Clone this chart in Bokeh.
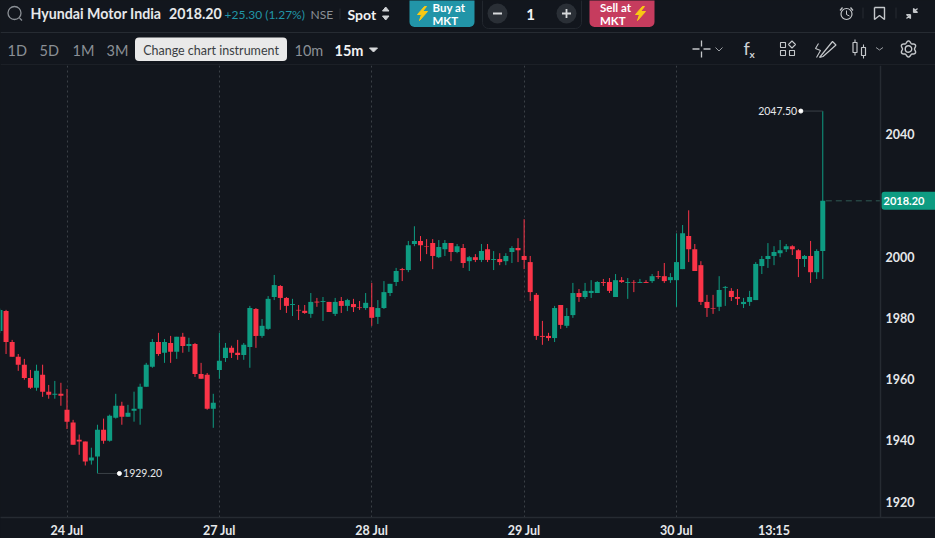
import numpy as np
from bokeh.plotting import figure
from bokeh.models import Range1d, FixedTicker, ColumnDataSource
from bokeh.core.properties import value
from bokeh.layouts import column
from bokeh.embed import file_html
from bokeh.resources import INLINE

# ---------- data (bar 0 = first bar of 24 Jul, bars are 15 minutes) ----------
first_bar = -11
opens = [
 1975.7,1982.2,1972.1,1967.3,1964.7,1960.4,1957.2,1961.4,1955.9,1954.9,
 1955.2,1950.0,1945.8,1940.2,1939.6,1933.4,1934.7,1943.5,1939.9,1947.4,
 1951.3,1947.7,1949.7,1950.3,1957.5,1964.0,1972.1,1968.6,1971.8,1968.9,
 1973.8,1970.8,1971.5,1961.7,1961.4,1950.3,1963.0,1966.9,1970.2,1968.6,
 1967.9,1970.5,1982.9,1974.1,1976.4,1986.8,1990.4,1986.5,1984.2,1982.6,
 1982.3,1981.3,1985.3,1985.2,1985.2,1981.3,1985.5,1983.9,1984.5,1983.4,
 1983.2,1983.5,1980.3,1983.2,1988.1,1991.7,1995.9,1995.6,2004.1,2005.1,
 2003.4,2004.4,1999.8,2002.4,2004.4,2001.5,2002.8,1998.5,1999.8,1998.9,
 2002.4,1998.9,1999.2,1998.5,2001.5,2002.8,2000.2,1998.2,1987.5,1974.1,
 1974.1,1973.4,1984.2,1977.4,1980.9,1988.1,1986.8,1988.1,1988.1,1991.7,
 1991.7,1986.8,1992.3,1991.4,1991.7,1991.4,1991.7,1992.0,1993.6,1993.6,
 1992.3,1992.3,1995.9,2006.7,2002.4,1997.2,1985.2,1983.2,1983.6,1989.8,
 1988.8,1986.8,1984.5,1985.2,1985.8,1996.9,1999.2,2000.2,2001.1,2002.4,
 2003.4,2002.1,1999.2,2000.2,1994.9,2001.8]
closes = [
 1982.6,1972.1,1967.3,1964.7,1960.4,1957.2,1962.7,1955.9,1954.9,1955.2,
 1954.6,1946.1,1938.6,1939.6,1933.1,1934.4,1943.5,1939.9,1948.0,1951.3,
 1947.7,1949.0,1950.3,1957.5,1964.7,1972.1,1968.2,1972.1,1968.9,1973.8,
 1970.8,1971.5,1961.7,1960.1,1950.3,1952.3,1966.0,1970.2,1968.6,1967.9,
 1971.2,1983.2,1974.1,1977.4,1986.2,1990.7,1986.5,1983.9,1984.5,1982.4,
 1981.6,1985.2,1985.0,1985.5,1981.9,1985.2,1983.9,1985.8,1983.5,1983.2,
 1984.9,1980.0,1983.2,1988.4,1991.1,1995.3,1995.6,2003.7,2005.1,2003.7,
 2003.2,2000.2,2003.1,2004.4,2001.5,2003.4,1997.9,1999.8,1998.9,2001.8,
 1998.9,1999.2,1998.2,2000.2,2002.8,2002.1,1998.9,1988.4,1974.1,1973.8,
 1973.4,1983.2,1977.7,1980.6,1988.1,1986.8,1988.8,1988.8,1991.7,1991.4,
 1988.8,1992.3,1991.7,1991.7,1991.5,1991.7,1991.4,1993.6,1993.3,1992.0,
 1993.3,1998.2,2007.6,2002.4,1995.3,1985.2,1983.2,1983.0,1989.1,1990.1,
 1986.8,1986.2,1985.2,1986.8,1997.6,1999.2,2000.2,2001.5,2002.1,2003.4,
 2002.4,1999.2,2000.2,1994.9,2001.8,2018.2]
highs = [
 1983.0,1982.6,1972.8,1968.2,1966.6,1963.0,1964.7,1964.7,1958.1,1959.4,
 1958.8,1956.8,1946.7,1941.9,1939.6,1937.6,1945.1,1947.1,1948.4,1955.2,
 1952.6,1951.6,1955.9,1958.5,1965.3,1973.1,1975.1,1973.1,1974.1,1973.8,
 1975.1,1973.5,1971.8,1965.3,1962.0,1955.2,1975.1,1971.8,1970.9,1972.8,
 1971.8,1983.9,1983.2,1979.6,1987.1,1994.0,1990.7,1986.8,1986.2,1984.2,
 1984.2,1988.1,1986.5,1986.8,1985.2,1986.5,1986.8,1986.2,1986.2,1985.5,
 1988.1,1991.4,1985.8,1992.0,1991.1,1996.3,1996.3,2005.1,2009.9,2006.7,
 2005.7,2005.7,2005.4,2005.4,2004.4,2004.1,2004.1,2000.2,2000.8,2004.1,
 2004.1,2001.8,2001.1,2001.1,2003.4,2006.0,2012.2,2000.2,1988.1,1979.0,
 1975.1,1983.9,1984.2,1983.2,1991.4,1989.4,1991.4,1992.3,1992.0,1992.7,
 1993.0,1994.3,1993.3,1993.0,1992.3,1992.7,1992.3,1994.3,1995.3,1997.9,
 1994.6,2007.6,2010.3,2015.1,2004.1,1998.5,1987.5,1987.5,1993.6,1990.4,
 1989.7,1989.4,1986.5,1988.8,1998.2,2000.2,2004.4,2003.4,2005.4,2004.1,
 2003.7,2002.4,2000.5,2005.1,2002.4,2047.5]
lows = [
 1975.0,1968.2,1967.3,1962.7,1959.8,1956.8,1956.2,1954.2,1953.6,1953.6,
 1951.3,1943.7,1938.6,1935.3,1931.8,1932.1,1929.2,1938.9,1939.6,1947.1,
 1945.1,1947.7,1946.1,1945.1,1957.5,1963.7,1967.6,1965.3,1965.3,1966.6,
 1968.6,1968.9,1960.7,1960.1,1950.0,1944.1,1960.1,1965.6,1966.9,1966.3,
 1966.3,1963.7,1970.2,1973.5,1976.1,1985.8,1982.6,1981.6,1980.6,1979.3,
 1981.3,1980.0,1983.6,1979.0,1981.9,1980.6,1981.6,1982.2,1981.9,1982.6,
 1982.6,1977.4,1978.0,1982.9,1987.1,1990.4,1992.0,1994.9,2003.4,1998.5,
 2000.8,1995.9,1999.5,2000.2,1998.5,2001.1,1996.3,1995.3,1998.2,1998.2,
 1998.2,1995.6,1997.2,1997.2,1997.9,1998.2,1995.9,1985.5,1972.8,1971.2,
 1972.5,1972.1,1976.4,1976.7,1980.0,1985.2,1986.2,1986.5,1988.1,1990.4,
 1988.1,1986.8,1991.4,1986.2,1988.4,1991.4,1991.4,1991.4,1992.7,1991.4,
 1991.4,1983.6,1995.9,1998.2,1995.3,1984.2,1980.3,1981.3,1982.2,1983.9,
 1985.5,1984.2,1983.2,1983.9,1985.8,1994.3,1996.3,1997.2,1999.8,2001.5,
 2000.5,1993.3,1996.6,1991.4,1992.7,1992.7]
x_tick_bars = [0, 25, 50, 75, 100, 116]
x_tick_labels = ["24 Jul", "27 Jul", "28 Jul", "29 Jul", "30 Jul", "13:15"]
day_bars = [0, 25, 50, 75, 100]
y_ticks = [1920, 1940, 1960, 1980, 2000, 2040]
y_tick_labels = ["1920", "1940", "1960", "1980", "2000", "2040"]
low_bar, low_price = 5, 1929.20
high_bar, high_price = 124, 2047.50
last_bar, last_price = 124, 2018.20

# ---------- style ----------
BG = "#12161d"
GREEN = "#0e9c82"
RED = "#fb3448"
LINE = "#262b32"
TXT = "#e6e8ea"
DIM = "#8b9096"
FONT = "Lato"
WID, HEAD_H, PLOT_H = 935, 65, 475
BAR_PX = 6.095
AXIS_PX = 880


def bar_at(px):
    return (px - 66.5) / BAR_PX


# ---------- main chart ----------
bars = list(range(first_bar, first_bar + len(opens)))
up = [c >= o for o, c in zip(opens, closes)]
src = ColumnDataSource(dict(
    x=bars, top=[max(o, c) for o, c in zip(opens, closes)],
    bottom=[min(o, c) for o, c in zip(opens, closes)], high=highs, low=lows,
    color=[GREEN if u else RED for u in up]))

p = figure(width=WID, height=PLOT_H, output_backend="svg", toolbar_location=None,
           x_range=Range1d(bar_at(0), bar_at(WID)),
           y_range=Range1d(2000 - 261.5 / 3.07, 2000 + 191.5 / 3.07),
           y_axis_location="right", min_border_left=0, min_border_top=0,
           min_border_right=0, min_border_bottom=20,
           background_fill_color=BG, border_fill_color=BG, outline_line_color=None)

for ax, tk, lb in ((p.xaxis[0], x_tick_bars, x_tick_labels), (p.yaxis[0], y_ticks, y_tick_labels)):
    ax.ticker = FixedTicker(ticks=tk)
    ax.major_label_overrides = dict(zip(tk, lb))
    ax.major_tick_line_color = None
    ax.minor_tick_line_color = None
    ax.major_tick_out = 0
    ax.major_tick_in = 0
    ax.minor_tick_out = 0
    ax.minor_tick_in = 0
    ax.axis_line_color = LINE
    ax.axis_line_width = 1.5
    ax.major_label_text_color = TXT
    ax.major_label_text_font = FONT
    ax.major_label_text_font_style = "bold"
    ax.major_label_text_font_size = "12.5px"
p.xaxis[0].major_label_standoff = 5
p.yaxis[0].major_label_standoff = 5
p.yaxis[0].fixed_location = bar_at(AXIS_PX)
p.ygrid.visible = False
p.xgrid.ticker = FixedTicker(ticks=day_bars)
p.xgrid.grid_line_color = "#3b4047"
p.xgrid.grid_line_dash = "2 3"
p.xgrid.grid_line_width = 1

p.segment(x0="x", y0="low", x1="x", y1="high", line_color="color", line_width=1, source=src)
p.vbar(x="x", top="top", bottom="bottom", width=5.0 / BAR_PX, fill_color="color",
       line_color=None, source=src)

# last-price dashed line and tag
p.segment(x0=[last_bar + 0.5], y0=[last_price], x1=[bar_at(AXIS_PX)], y1=[last_price],
          line_color="#2f5a54", line_width=1, line_dash="6 4")
p.quad(left=[bar_at(AXIS_PX + 1)], right=[bar_at(WID + 6)], top=[last_price + 9 / 3.07],
       bottom=[last_price - 9 / 3.07], fill_color=GREEN, line_color=None, border_radius=3)
p.text(x=[bar_at(883)], y=[last_price], text=[f"{last_price:.2f}"], text_color="#ffffff",
       text_font=value(FONT), text_font_style="bold", text_font_size="11px", text_baseline="middle")

# high / low markers
p.segment(x0=[low_bar], y0=[low_price], x1=[low_bar + 3.5], y1=[low_price], line_color="#3b4047", line_width=1)
p.segment(x0=[high_bar - 3.5], y0=[high_price], x1=[high_bar], y1=[high_price], line_color="#3b4047", line_width=1)
p.scatter(x=[low_bar + 3.6, high_bar - 3.6], y=[low_price, high_price], size=4, color="#ffffff", marker="circle")
p.text(x=[low_bar + 4.2], y=[low_price], text=[f"{low_price:.2f}"], text_color=TXT, text_font=value(FONT),
       text_font_size="10.5px", text_baseline="middle", text_font_style="normal")
p.text(x=[high_bar - 4.2], y=[high_price], text=[f"{high_price:.2f}"], text_color=TXT, text_font=value(FONT),
       text_font_size="10.5px", text_baseline="middle", text_align="right", text_font_style="normal")

# ---------- header with the instrument line and tool bar ----------
h = figure(width=WID, height=HEAD_H, output_backend="svg", toolbar_location=None,
           x_range=Range1d(0, WID), y_range=Range1d(HEAD_H, 0), x_axis_type=None, y_axis_type=None,
           min_border=0, background_fill_color=BG, border_fill_color=BG, outline_line_color=None)
h.grid.visible = False


def T(x, y, s, color=TXT, size=14, style="normal", align="left"):
    h.text(x=[x], y=[y], text=[s], text_color=color, text_font=value(FONT), text_font_size=f"{size}px",
           text_font_style=style, text_baseline="middle", text_align=align)


def L(xs, ys, color=DIM, width=1.3):
    h.line(xs, ys, line_color=color, line_width=width)


h.segment(x0=[0, 0], y0=[32, 64.5], x1=[WID, WID], y1=[32, 64.5], line_color=LINE, line_width=1)

# search
h.scatter([14], [12.5], size=13, marker="circle", fill_color=None, line_color=DIM, line_width=1.3)
L([19, 21.5], [17.5, 20])
T(30, 13, "Hyundai Motor India", TXT, 14.2, "bold")
T(168.5, 13, "2018.20", TXT, 14.2, "bold")
T(224, 14, "+25.30 (1.27%)", "#2195a6", 12)
T(310, 14, "NSE", DIM, 12)
L([339.5, 339.5], [8, 19], LINE, 1)
T(347, 13.5, "Spot", "#f2f3f4", 14, "bold")
h.patch([382, 388.5, 385.2], [10.5, 10.5, 6.5], color="#cfd2d5")
h.patch([382, 388.5, 385.2], [15.5, 15.5, 19.5], color="#cfd2d5")

# buttons
h.quad(left=[409], right=[474], top=[-6], bottom=[26.5], fill_color="#2295a8", line_color=None, border_radius=5)
h.quad(left=[589], right=[654], top=[-6], bottom=[26.5], fill_color="#c63c5e", line_color=None, border_radius=5)
for cx in (422, 640):
    h.patch([cx + 2, cx - 5, cx - 1, cx - 3, cx + 5, cx, cx + 4],
            [6, 14, 14, 20, 11, 11, 6], color="#f8c913")
T(432, 7, "Buy at", "#ffffff", 11.5, "bold")
T(432, 20, "MKT", "#ffffff", 11.5, "bold")
T(599.5, 7, "Sell at", "#ffffff", 11.5, "bold")
T(599.5, 20, "MKT", "#ffffff", 11.5, "bold")
h.quad(left=[482], right=[581], top=[-6], bottom=[28], fill_color=None, line_color="#22272e", line_width=1, border_radius=6)
h.scatter([497, 566], [13, 13], size=20, marker="circle", fill_color="#2a2f36", line_color=None)
L([492.5, 501.5], [13, 13], "#d7d9db", 1.8)
L([561.5, 570.5], [13, 13], "#d7d9db", 1.8)
L([566, 566], [8.5, 17.5], "#d7d9db", 1.8)
T(530, 13.5, "1", "#f2f3f4", 15, "bold", "center")

# top-right icons
h.scatter([846], [13.5], size=11, marker="circle", fill_color=None, line_color="#c4c7ca", line_width=1.2)
L([846, 846, 849], [10, 14, 15.5], "#c4c7ca", 1)
L([839.5, 842], [10, 7], "#c4c7ca", 1.2)
L([850, 852.5], [7, 10], "#c4c7ca", 1.2)
L([862.5, 862.5], [7, 18], LINE, 1)
L([874, 884, 884, 879, 874, 874], [7, 7, 19, 15, 19, 7], "#c4c7ca", 1.4)
L([895.5, 895.5], [7, 18], LINE, 1)
L([906, 910, 910, 906, 910], [18, 14, 18, 14, 14], "#c4c7ca", 1.2)
L([917, 913, 913, 917, 913], [8, 12, 8, 12, 12], "#c4c7ca", 1.2)

# row two: periods
for x, s in ((7, "1D"), (39, "5D"), (72, "1M"), (106, "3M")):
    T(x, 49.5, s, DIM, 14.5)
T(294, 49.5, "10m", DIM, 14.5)
T(334, 49.5, "15m", "#f2f3f4", 14.5, "bold")
h.patch([369, 377, 373], [47.5, 47.5, 51.5], color="#d7d9db")
h.quad(left=[134.5], right=[286.5], top=[37], bottom=[60.5], fill_color="#e9e9e9", line_color=None, border_radius=4)
T(210.5, 49.5, "Change chart instrument", "#3a3d42", 12.5, "normal", "center")

# row two: tools
L([692, 699], [48.5, 48.5], "#c4c7ca")
L([703, 710], [48.5, 48.5], "#c4c7ca")
L([701, 701], [40, 46], "#c4c7ca")
L([701, 701], [51, 57], "#c4c7ca")
L([715, 718.5, 722], [47, 50.5, 47], "#9a9ea3", 1)
T(743, 47.5, "f", "#d0d3d6", 18, "normal")
T(749, 53, "x", "#d0d3d6", 10, "bold")
h.quad(left=[780, 780, 789], right=[785, 785, 794], top=[42, 50, 50], bottom=[47, 55, 55],
       fill_color=None, line_color="#c4c7ca", line_width=1.1)
h.patch([791.5, 795, 791.5, 788], [40.5, 44, 47.5, 44], fill_color=BG, line_color="#c4c7ca", line_width=1.1)
L([832, 835.5, 822.5, 819, 832], [41, 44.5, 56, 57, 41], "#c4c7ca", 1.2)
L([818, 815, 820, 816], [43, 48, 50, 57], "#c4c7ca", 1.1)
L([854.5, 854.5], [39, 55], "#c4c7ca", 1.1)
L([863, 863], [44, 58], "#c4c7ca", 1.1)
h.quad(left=[852.5, 861], right=[856.5, 865], top=[42, 47], bottom=[52, 55], fill_color=BG, line_color="#c4c7ca", line_width=1.2)
L([875.5, 879, 882.5], [47, 49.5, 47], "#9a9ea3", 1)
theta = np.linspace(0, 2 * np.pi, 73)
gear_r = 7.0 + 1.0 * np.cos(6 * (theta - np.pi / 6))
h.patch(908 + gear_r * np.cos(theta), 48.5 + gear_r * np.sin(theta),
        fill_color=None, line_color="#c4c7ca", line_width=1.4)
h.scatter([908], [48.5], size=6.5, marker="circle", fill_color=None, line_color="#c4c7ca", line_width=1.4)

page = column(h, p, spacing=0)
html = file_html(page, INLINE)
html = html.replace("<head>", f"<head><style>html,body{{margin:0;padding:0;background:{BG};overflow:hidden}}</style>", 1)
open("out.html", "w").write(html)
